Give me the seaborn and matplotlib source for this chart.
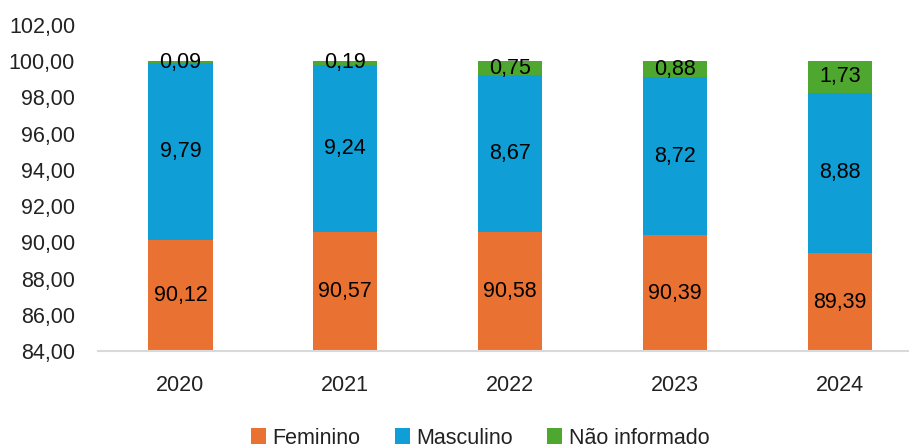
import matplotlib
matplotlib.use("Agg")

import matplotlib.pyplot as plt
import numpy as np
import pandas as pd
import seaborn as sns

anos = ["2020", "2021", "2022", "2023", "2024"]
feminino = [90.12, 90.57, 90.58, 90.39, 89.39]
masculino = [9.79, 9.24, 8.67, 8.72, 8.88]
nao_informado = [0.09, 0.19, 0.75, 0.88, 1.73]
y_ticks = [84, 86, 88, 90, 92, 94, 96, 98, 100, 102]

COR_FEM = "#E97132"
COR_MASC = "#0F9ED5"
COR_NI = "#4EA72E"
Y_MIN, Y_MAX = 84, 102

sns.set_theme(style="white")
plt.rcParams["font.family"] = ["Liberation Sans", "DejaVu Sans"]

df = pd.DataFrame({
    "ano": anos,
    "Feminino": feminino,
    "Masculino": masculino,
    "Não informado": nao_informado,
})

fig = plt.figure(figsize=(9.09, 4.48), dpi=100)
ax = fig.add_axes([98 / 909, 1 - 351 / 448, (909 - 98) / 909, (351 - 25) / 448])

x = np.arange(len(anos))
largura = 0.39
base = np.zeros(len(anos))
for serie, cor in [("Feminino", COR_FEM), ("Masculino", COR_MASC), ("Não informado", COR_NI)]:
    vals = df[serie].values
    ax.bar(x, vals, largura, bottom=base, color=cor, label=serie, linewidth=0)
    for xi, b, v in zip(x, base, vals):
        # rótulo no centro da parte visível do segmento
        centro = (max(b, Y_MIN) + b + v) / 2
        ax.text(xi, centro, f"{v:.2f}".replace(".", ","), ha="center", va="center",
                fontsize=15.5, color="black")
    base = base + vals

ax.set_ylim(Y_MIN, Y_MAX)
ax.set_xlim(-0.5, 4.42)
ax.set_yticks(y_ticks)
ax.set_yticklabels([f"{t:.2f}".replace(".", ",") for t in y_ticks], fontsize=15.5, color="#222222")
ax.set_xticks(x)
ax.set_xticklabels(anos, fontsize=15.5, color="#222222")
ax.tick_params(axis="both", length=0)
ax.tick_params(axis="y", pad=16.5)
ax.tick_params(axis="x", pad=17)

for lado in ["left", "right", "top"]:
    ax.spines[lado].set_visible(False)
ax.spines["bottom"].set_color("#D9D9D9")
ax.spines["bottom"].set_linewidth(1.5)

fig.legend(loc="center", bbox_to_anchor=(480 / 909, 1 - 438 / 448), ncol=3, frameon=False,
           fontsize=15.5, handlelength=0.7, handleheight=0.7, handletextpad=0.3,
           columnspacing=1.6, labelcolor="#222222")

fig.savefig("out.png", dpi=100)
plt.close(fig)
